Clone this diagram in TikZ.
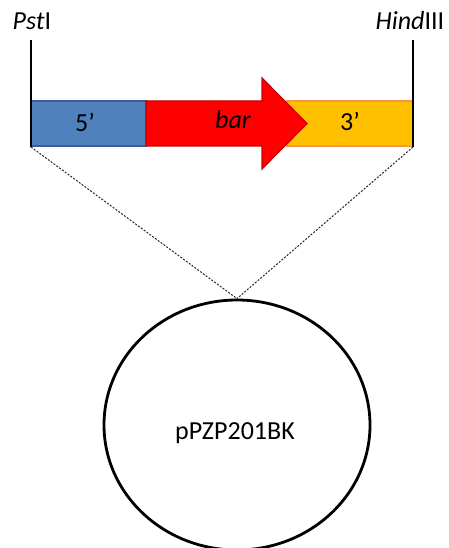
\documentclass[tikz,border=0pt]{standalone}
\usepackage{fontspec}
\setmainfont{Carlito}
\usetikzlibrary{shapes.geometric}
\definecolor{blueF}{HTML}{4F81BD}
\definecolor{blueD}{HTML}{3A5F8E}
\definecolor{redF}{HTML}{FF0000}
\definecolor{redD}{HTML}{C80000}
\definecolor{yelF}{HTML}{FFC000}
\definecolor{yelD}{HTML}{F79646}
\tikzset{
  lbl/.style={inner sep=0pt, anchor=base, font=\fontsize{26}{30}\selectfont},
  site/.style={line width=2pt, black},
  guide/.style={line width=1pt, black!85, dash pattern=on 2pt off 1.5pt},
}
\begin{document}
\begin{tikzpicture}[x=1pt,y=-1pt]
\useasboundingbox (0,0) rectangle (449,548);
% 3' region
\path[fill=yelF, draw=yelD, line width=1.5pt] (287,101) rectangle (413,146);
% 5' region
\path[fill=blueF, draw=blueD, line width=1.5pt] (31,101) rectangle (146,146);
% bar arrow
\path[fill=redF, draw=redD, line width=1.2pt]
  (146,101) -- (262,101) -- (262,78) -- (307,123.5) -- (262,169) -- (262,146) -- (146,146) -- cycle;
% labels in bar
\node[lbl] (five) at (85,132) {5’};
\node[lbl] (bar) at (233,129) {\itshape bar};
\node[lbl] (three) at (350,131) {3’};
% restriction sites
\node[lbl] (pst) at (32,30) {\textit{Pst}I};
\node[lbl] (hind) at (410,30) {\textit{Hind}III};
\coordinate (pstT) at (31,40);
\coordinate (pstB) at (31,147);
\coordinate (hindT) at (413,40);
\coordinate (hindB) at (413,147);
\draw[site] (pstT) -- (pstB);
\draw[site] (hindT) -- (hindB);
% plasmid
\node[ellipse, draw, line width=2.8pt, minimum width=266pt, minimum height=250pt, inner sep=0pt] (plasmid) at (237,425) {};
\node[lbl] (pname) at (235,439) {pPZP201BK};
% guides
\draw[guide] (pstB) -- (plasmid.north);
\draw[guide] (hindB) -- (plasmid.north);
\end{tikzpicture}
\end{document}
